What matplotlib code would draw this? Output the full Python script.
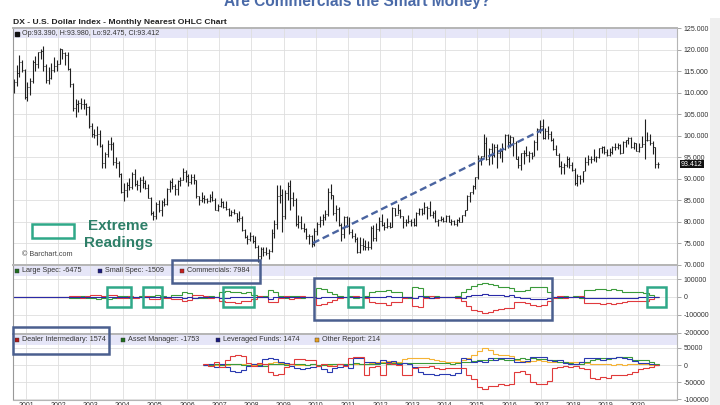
import numpy as np
import matplotlib
matplotlib.use('Agg')
import matplotlib.pyplot as plt
from matplotlib.patches import Rectangle
from matplotlib.transforms import blended_transform_factory

plt.rcParams['font.family'] = ['Liberation Sans', 'DejaVu Sans']

# ---- DX monthly bars, Aug 2000 .. Aug 2020 ----
dx_first_open = 110.6
dx_high = [
    113.2, 116.4, 118.7, 117.6, 115.5,
    112.5, 113.4, 117.6, 118.5, 119.6, 120.3, 121.0, 116.8, 116.0, 116.9, 118.4, 117.7,
    120.5, 120.3, 119.6, 119.4, 115.8, 112.3, 108.6, 108.4, 108.7, 108.6, 107.6, 107.0,
    103.0, 101.6, 102.2, 101.3, 98.0, 96.2, 98.9, 99.6, 98.5, 95.0, 94.2, 91.4,
    88.9, 89.2, 90.2, 91.5, 92.2, 89.6, 90.4, 90.6, 89.6, 88.8, 85.8, 82.5,
    84.5, 85.1, 85.0, 85.6, 87.9, 89.6, 90.2, 88.8, 89.6, 90.4, 92.6, 92.0,
    91.0, 91.2, 91.0, 89.8, 86.0, 86.8, 86.2, 85.6, 86.4, 87.2, 85.4, 84.2,
    85.5, 84.9, 84.8, 83.2, 82.6, 82.9, 82.1, 82.4, 81.2, 78.4, 77.0, 77.5,
    76.9, 76.6, 74.5, 74.0, 74.1, 74.2, 73.6, 78.2, 80.4, 88.5, 88.5, 87.7,
    87.3, 89.2, 89.6, 86.8, 85.4, 81.5, 81.3, 79.6, 78.6, 77.2, 76.8, 78.6,
    79.8, 81.3, 81.7, 82.7, 87.9, 88.7, 86.2, 83.8, 83.5, 79.6, 81.4, 81.4,
    81.1, 78.4, 77.3, 76.4, 76.5, 76.1, 75.8, 75.6, 79.0, 79.3, 79.7, 81.1,
    81.8, 79.8, 80.8, 79.9, 83.3, 83.1, 84.1, 83.0, 81.4, 80.5, 81.5, 80.5,
    80.9, 82.2, 83.2, 83.1, 84.5, 83.6, 84.8, 82.5, 82.6, 80.6, 81.4, 81.0,
    81.6, 81.5, 80.6, 80.4, 80.6, 81.0, 81.6, 82.8, 86.1, 87.0, 88.5, 90.3,
    95.5, 95.3, 100.4, 99.6, 97.2, 98.3, 98.0, 98.0, 97.1, 98.2, 100.5, 100.5,
    100.1, 99.8, 98.8, 95.2, 96.0, 96.8, 97.6, 96.5, 96.3, 98.9, 101.9, 103.6,
    103.8, 101.8, 102.2, 101.0, 99.4, 97.9, 96.0, 94.2, 93.6, 95.2, 95.0, 94.0,
    92.6, 91.0, 90.8, 91.9, 95.0, 95.5, 95.2, 96.9, 95.4, 97.2, 97.7, 97.7,
    96.9, 97.2, 97.7, 98.3, 98.4, 98.0, 98.7, 99.0, 99.7, 99.6, 98.5, 98.3,
    98.2, 99.9, 103.96, 100.9, 100.3, 98.7, 97.5, 93.98,
]
dx_low = [
    110.0, 111.5, 113.6, 114.8, 108.5,
    108.2, 109.6, 112.4, 115.0, 115.8, 117.8, 115.2, 112.2, 112.0, 113.2, 114.8, 115.0,
    116.6, 117.8, 116.5, 115.4, 111.4, 105.8, 104.4, 105.6, 106.2, 106.3, 104.8, 101.8,
    99.6, 99.4, 97.8, 97.5, 92.6, 92.5, 95.0, 96.8, 93.3, 92.4, 90.5, 86.6,
    84.9, 85.8, 87.4, 87.6, 88.4, 87.4, 86.8, 87.9, 87.6, 85.4, 81.6, 80.4,
    80.7, 82.3, 81.4, 83.6, 83.8, 86.9, 87.5, 86.3, 86.2, 88.2, 89.6, 89.3,
    88.2, 88.8, 88.8, 85.6, 83.9, 84.6, 84.3, 84.3, 84.6, 84.8, 82.6, 82.4,
    83.4, 83.1, 82.6, 81.4, 81.4, 81.8, 80.0, 80.2, 77.8, 76.2, 74.8, 75.4,
    75.1, 73.8, 70.7, 71.4, 72.1, 72.2, 71.4, 72.9, 76.1, 78.3, 84.4, 77.7,
    80.6, 85.0, 82.8, 83.6, 78.9, 78.6, 78.2, 77.6, 76.0, 74.9, 74.2, 74.4,
    76.8, 78.8, 79.2, 80.3, 81.3, 85.3, 81.6, 80.1, 79.1, 75.6, 76.3, 78.8,
    77.1, 76.3, 75.2, 72.7, 72.8, 73.5, 73.4, 73.4, 73.7, 75.4, 75.6, 77.8,
    78.9, 78.1, 78.5, 78.6, 78.7, 81.2, 81.7, 80.9, 78.6, 79.0, 79.6, 79.0,
    78.9, 78.9, 81.6, 81.6, 81.7, 80.5, 81.3, 80.8, 80.0, 79.0, 80.1, 79.8,
    80.0, 79.8, 79.2, 79.2, 78.9, 79.8, 79.8, 81.2, 82.6, 84.5, 86.4, 87.6,
    89.9, 93.2, 95.0, 94.4, 93.1, 93.5, 95.0, 92.6, 94.9, 93.8, 96.6, 97.2,
    97.4, 95.2, 94.6, 92.6, 92.0, 93.4, 95.2, 94.0, 94.6, 95.4, 96.8, 100.6,
    99.2, 99.2, 99.2, 98.8, 96.8, 95.5, 92.8, 91.0, 91.0, 92.7, 92.5, 91.9,
    88.5, 88.2, 88.8, 89.2, 91.7, 93.2, 93.7, 94.1, 93.8, 94.9, 96.0, 95.7,
    95.2, 95.3, 95.7, 96.8, 97.0, 95.8, 95.9, 97.4, 98.0, 97.1, 97.0, 96.4,
    96.2, 97.4, 94.65, 98.8, 97.9, 95.7, 92.6, 92.475,
]
dx_close = [
    112.6, 114.6, 117.2, 115.3, 109.1,
    111.3, 112.8, 117.2, 116.8, 119.5, 119.8, 116.2, 113.0, 113.5, 115.4, 116.2, 116.8,
    120.2, 119.2, 118.9, 115.6, 112.0, 106.4, 107.4, 107.6, 107.4, 107.5, 106.8, 102.2,
    100.4, 100.1, 100.3, 97.7, 93.6, 95.8, 98.0, 98.1, 93.9, 93.6, 91.2, 86.9,
    87.4, 88.6, 88.0, 91.0, 88.8, 88.5, 89.8, 88.9, 87.9, 85.6, 81.9, 81.2,
    84.0, 82.6, 84.6, 84.2, 87.6, 89.3, 88.3, 87.6, 89.5, 89.7, 91.6, 90.6,
    89.3, 90.4, 89.6, 85.9, 85.1, 85.4, 85.2, 84.9, 85.8, 85.0, 82.8, 83.6,
    84.6, 83.4, 82.9, 81.6, 82.2, 82.0, 80.6, 80.8, 78.1, 76.4, 75.9, 76.7,
    75.4, 74.2, 72.1, 73.6, 72.9, 72.6, 73.2, 77.4, 79.4, 85.9, 86.3, 81.2,
    86.6, 88.2, 85.6, 85.0, 79.4, 80.0, 78.6, 78.3, 76.6, 76.6, 74.9, 77.8,
    79.4, 80.4, 81.1, 81.8, 86.8, 86.1, 81.9, 83.0, 79.3, 77.2, 81.1, 79.1,
    77.6, 76.6, 75.9, 73.0, 74.6, 74.3, 74.0, 74.2, 78.6, 76.2, 78.3, 80.2,
    79.3, 78.7, 79.0, 78.8, 83.1, 81.6, 82.7, 81.2, 79.9, 80.0, 80.2, 79.8,
    79.2, 82.1, 82.9, 81.9, 83.3, 83.2, 81.6, 82.0, 80.2, 80.3, 80.7, 80.2,
    81.3, 79.8, 80.1, 79.5, 80.4, 79.9, 81.5, 82.7, 86.0, 86.9, 88.4, 90.3,
    94.8, 95.3, 98.4, 94.6, 96.9, 95.5, 97.3, 96.0, 96.4, 97.0, 100.2, 98.6,
    99.6, 98.2, 94.6, 93.1, 95.9, 96.1, 95.5, 95.9, 95.4, 98.5, 101.5, 102.2,
    99.5, 101.1, 100.4, 99.1, 97.0, 95.6, 92.9, 92.7, 93.1, 94.5, 93.1, 92.1,
    89.1, 90.6, 90.0, 91.8, 94.0, 94.5, 94.5, 95.1, 95.1, 97.1, 97.3, 96.2,
    95.6, 96.2, 97.3, 97.5, 97.8, 96.1, 98.5, 98.9, 99.4, 97.4, 98.3, 96.4,
    97.4, 98.1, 98.9, 99.0, 98.3, 97.4, 93.39, 93.412,
]

# ---- Legacy COT net positions (two-month steps from Jul 2000) ----
large_spec = [
    1, 2, 1,
    0, 1, 2, 1, 0, 1,
    0, -1, -5, -6, 4, -3,
    -8, -10, -6, -9, -7, 5,
    6, -4, 2, 3, -2, 8,
    10, 6, 2, 10, 12, 25,
    20, -4, -8, -3, 3, -2,
    25, 33, 28, 30, 22, 26,
    10, -2, 3, 38, 30, 8,
    -6, 8, 4, -3, 2, 1,
    48, 42, 30, 15, 4, -2,
    3, -4, 2, 6, 28, 35,
    33, 38, 30, 28, 2, -3,
    54, 50, 8, -5, 3, -2,
    2, 1, 3, 25, 45, 60,
    70, 76, 72, 65, 58, 55,
    50, 32, 35, 38, 55, 58,
    55, 30, 2, -3, 4, -2,
    3, -4, 40, 38, 42, 45,
    40, 42, 38, 30, 28, 27,
    25, 22, 10, 2,
]
commercials = [
    -1, -2, 0,
    1, -1, -2, 0, 1, -1,
    1, 2, 6, 7, -4, 4,
    10, 11, 8, 10, 9, -6,
    -7, 5, -3, -2, 3, -10,
    -10, -6, -3, -10, -12, -22,
    -18, 11, 9, 4, -3, 2,
    -22, -30, -26, -32, -20, -25,
    -9, 3, -2, -26, -28, -6,
    7, -9, -5, 4, -2, -1,
    -45, -40, -28, -14, -4, 2,
    -2, 5, -2, -5, -26, -35,
    -32, -42, -30, -26, -3, 2,
    -50, -55, -8, 8, -3, 2,
    -2, -1, -3, -22, -50, -70,
    -80, -90, -85, -75, -68, -62,
    -60, -30, -28, -34, -45, -48,
    -45, -25, -3, 3, -4, 2,
    -2, 4, -33, -32, -36, -38,
    -36, -37, -33, -26, -24, -24,
    -23, -20, -9, -2,
]
small_spec = [
    0, 0, -1,
    -1, 0, 0, -1, -1, 0,
    -1, -1, -1, -1, 0, -1,
    -2, -1, -2, -1, -2, 1,
    1, -1, 1, -1, -1, 2,
    0, 0, 1, 0, 0, -3,
    -2, -7, -1, -1, 0, 0,
    -3, -3, -2, 2, -2, -1,
    -1, -1, -1, -12, -2, -2,
    -1, 1, 1, -1, 0, 0,
    -3, -2, -2, -1, 0, 0,
    -1, -1, 0, -1, -2, 0,
    -1, 4, 0, -2, 1, 1,
    -4, 5, 0, -3, 0, 0,
    0, 0, 0, -3, 5, 10,
    10, 14, 13, 10, 10, 7,
    10, -2, -7, -4, -10, -10,
    -10, -5, 1, 0, 0, 0,
    -1, 0, -7, -6, -6, -7,
    -4, -5, -5, -4, -4, -3,
    -2, -2, -1, 0,
]

# ---- Financial traders COT (two-month steps from Jul 2006) ----
dealer = [
    3, -2, 8,
    -5, 15, 27, 28, 26, 5,
    -4, 5, 3, -20, -28, -25,
    -5, 3, 18, 18, 16, 15,
    -3, 2, -2, -4, 3, -3,
    20, 22, 22, -28, -6, -4,
    -28, 5, 2, 0, -28, -28,
    -10, -5, -6, -3, -10, -12,
    -10, -8, -10, -10, -28, -40,
    -65, -70, -62, -60, -55, -58,
    -55, -20, -18, -25, -50, -55,
    -56, -45, -8, -5, -4, -6,
    -3, -10, -12, -38, -40, -36,
    -38, -30, -28, -28, -26, -20,
    -12, -10, -5, 0,
]
asset_manager = [
    0, 1, 2,
    1, 2, 3, 2, 1, 0,
    2, 1, -2, 3, 4, 2,
    1, 2, 3, 2, 1, 2,
    1, -1, 2, 3, 2, 2,
    3, 5, 4, 2, 3, 4,
    5, 4, 5, 6, 6, 5,
    6, 7, 5, 5, 6, 5,
    5, 3, 5, 8, 10, 12,
    14, 15, 16, 19, 18, 15,
    14, 18, 19, 18, 19, 18,
    17, 15, 14, 10, 8, 5,
    4, 3, 8, 14, 18, 20,
    18, 20, 24, 24, 22, 16,
    14, 14, 10, 2,
]
leveraged = [
    0, 2, -5,
    3, -6, -18, -19, -15, -3,
    2, -2, 18, 20, 18, 8,
    5, -3, -10, -12, -8, -6,
    -3, -12, -20, -10, -5, 0,
    -8, 21, 20, 10, 8, 5,
    14, 10, 12, 3, 5, 4,
    -5, -20, -27, -25, -28, -27,
    -25, -28, -22, 19, 18, 10,
    12, 10, 19, 15, 19, 19,
    19, 10, 8, 12, 24, 24,
    22, 14, 12, 14, 6, 2,
    4, 8, 19, 19, 20, 16,
    19, 20, 22, 19, 17, 12,
    6, 5, 3, 0,
]
other_report = [
    0, 1, 0,
    0, 1, 2, 3, 2, 1,
    0, 2, 3, 5, 8, 6,
    3, 2, 1, 0, 1, 2,
    1, 0, 1, 2, 3, 2,
    2, 3, 2, 4, 6, 8,
    10, 12, 10, 8, 18, 19,
    19, 20, 19, 18, 15, 12,
    10, 8, 10, 15, 20, 28,
    42, 50, 45, 32, 28, 28,
    26, 15, 12, 10, 12, 14,
    12, 10, 9, 10, 10, 10,
    10, 10, 6, 4, 2, 2,
    2, 1, 2, 1, 2, 3,
    2, 2, 1, 0,
]

years = list(range(2001, 2021))
trend_t = [2009.91, 2017.12]
trend_v = [75.0, 101.7]
extreme_periods = [(2003.52, 2004.26), (2004.63, 2005.22), (2007.12, 2008.08),
                   (2011.0, 2011.47), (2020.29, 2020.88)]
big_period = (2009.93, 2017.33)

W, H = 720, 405
def fx(x):
    return x / W
def fy(y):
    return 1 - y / H

fig = plt.figure(figsize=(7.2, 4.05), dpi=100)
fig.add_artist(Rectangle((fx(710), 0), fx(10), fy(18), transform=fig.transFigure,
                         fc='#efefef', ec='none', zorder=-1))

L, R = 13, 677
ax1 = fig.add_axes([fx(L), fy(265), (R - L) / W, (265 - 28) / H])
ax2 = fig.add_axes([fx(L), fy(334), (R - L) / W, (334 - 265) / H])
ax3 = fig.add_axes([fx(L), fy(399.5), (R - L) / W, (399.5 - 334) / H])

xmin = 2001 - (26 - L) / 32.2
xmax = 2001 + (R - 26) / 32.2
grid_c = '#dedede'
for ax, band_px, hpx in [(ax1, 10, 237), (ax2, 11, 69), (ax3, 11, 65.5)]:
    ax.set_xlim(xmin, xmax)
    ax.set_axisbelow(True)
    ax.set_xticks(years)
    ax.grid(True, color=grid_c, lw=0.6)
    ax.yaxis.tick_right()
    ax.tick_params(axis='y', direction='out', length=3, width=0.6, color='#999999',
                   labelsize=5, pad=2, labelcolor='#333333')
    ax.tick_params(axis='x', length=0, labelsize=5, labelcolor='#333333', pad=1.5)
    for s in ax.spines.values():
        s.set_color('#b5b5b5')
        s.set_linewidth(0.8)
    ax.spines['top'].set_linewidth(1.4)
    ax.spines['left'].set_color('#999999')
    ax.add_patch(Rectangle((0, 1 - band_px / hpx), 1, band_px / hpx, transform=ax.transAxes,
                           fc='#e6e6f8', ec='none', zorder=0.3))
ax1.tick_params(axis='x', labelbottom=False)
ax2.tick_params(axis='x', labelbottom=False)
ax3.set_xticklabels([str(y) for y in years])

# ---- main OHLC panel ----
n = len(dx_close)
t = 2000 + (7.5 + np.arange(n)) / 12
dx_open = np.r_[dx_first_open, dx_close[:-1]]
bar_c = '#1e1e1e'
ax1.vlines(t, dx_low, dx_high, color=bar_c, lw=0.8)
ax1.hlines(dx_open, t - 0.03, t, color=bar_c, lw=0.7)
ax1.hlines(dx_close, t, t + 0.03, color=bar_c, lw=0.7)
ax1.set_ylim(69.9, 125.1)
ax1.set_yticks(np.arange(70, 126, 5))
ax1.yaxis.set_major_formatter(plt.FormatStrFormatter('%.3f'))
ax1.plot(trend_t, trend_v, color='#4a64a0', lw=1.7, ls=(0, (3, 1.6)))

ax1.plot([(17 - L) / (R - L)], [1 - 5.5 / 237], marker='s', ms=2.6, color='#111111',
         transform=ax1.transAxes, clip_on=False)
ax1.text((22 - L) / (R - L), 1 - 5.5 / 237,
         'Op:%.3f, H:%.3f, Lo:%.3f, Cl:%.3f' % (dx_open[-1], dx_high[-1], dx_low[-1], dx_close[-1]),
         transform=ax1.transAxes, fontsize=5.1, color='#333333', va='center')
tr = blended_transform_factory(ax1.transAxes, ax1.transData)
ax1.text(1.006, dx_close[-1], '%.3f' % dx_close[-1], transform=tr, fontsize=5, color='white',
         va='center', ha='left', bbox=dict(fc='#111111', ec='none', pad=0.6), clip_on=False)
ax1.text((22 - L) / (R - L), 10 / 237, '© Barchart.com', transform=ax1.transAxes,
         fontsize=5.2, color='#444444', va='center')

# ---- legacy COT panel ----
edges2 = 2000.5 + np.arange(len(large_spec) + 1) / 6
ax2.stairs(np.array(large_spec) * 1000, edges2, color='#3a9a3a', lw=0.8)
ax2.stairs(np.array(commercials) * 1000, edges2, color='#e03a3e', lw=0.8)
ax2.stairs(np.array(small_spec) * 1000, edges2, color='#2a2aa8', lw=0.8)
ax2.set_ylim(-206000, 178000)
ax2.set_yticks([100000, 0, -100000, -200000])
ax2.yaxis.set_major_formatter(plt.FormatStrFormatter('%d'))

def legend_row(ax, hpx, items):
    for xpx, col, label in items:
        ax.plot([(xpx - L) / (R - L)], [1 - 5.5 / hpx], marker='s', ms=2.6, color=col,
                mec='#333333', mew=0.3, transform=ax.transAxes, clip_on=False)
        ax.text((xpx + 5 - L) / (R - L), 1 - 5.5 / hpx, label, transform=ax.transAxes,
                fontsize=5.2, color='#333333', va='center')

legend_row(ax2, 69, [(17, '#1f6e1f', 'Large Spec: %d' % -6475),
                     (100, '#1a1a80', 'Small Spec: %d' % -1509),
                     (182, '#c41e1e', 'Commercials: %d' % 7984)])

# ---- financial traders panel ----
edges3 = 2006.5 + np.arange(len(dealer) + 1) / 6
ax3.stairs(np.array(other_report) * 1000, edges3, color='#f5b335', lw=0.8)
ax3.stairs(np.array(asset_manager) * 1000, edges3, color='#3a9a3a', lw=0.8)
ax3.stairs(np.array(leveraged) * 1000, edges3, color='#2a3ab0', lw=0.8)
ax3.stairs(np.array(dealer) * 1000, edges3, color='#e03a3a', lw=0.8)
ax3.set_ylim(-100000, 90000)
ax3.set_yticks([50000, 0, -50000, -100000])
ax3.yaxis.set_major_formatter(plt.FormatStrFormatter('%d'))
legend_row(ax3, 65.5, [(17, '#b01818', 'Dealer Intermediary: %d' % 1574),
                       (123, '#1f6e1f', 'Asset Manager: %d' % -1753),
                       (218, '#1a1a80', 'Leveraged Funds: %d' % 1474),
                       (317, '#e8a020', 'Other Report: %d' % 214)])

# ---- annotations ----
green = '#2fa888'
navy = '#4a5f8f'
for a, b in extreme_periods:
    ax2.add_patch(Rectangle((a, -55600), b - a, 111200, fc='none', ec=green, lw=1.8,
                            zorder=5, clip_on=False))
ax2.add_patch(Rectangle((big_period[0], -127800), big_period[1] - big_period[0], 233400,
                        fc='none', ec=navy, lw=1.8, zorder=5, clip_on=False))

def fig_box(x0, y0, x1, y1, col):
    fig.add_artist(Rectangle((fx(x0), fy(y1)), fx(x1) - fx(x0), fy(y0) - fy(y1),
                             transform=fig.transFigure, fc='none', ec=col, lw=1.8, zorder=5))

fig_box(172, 260, 260, 283, navy)
fig_box(13, 327, 109, 354, navy)
fig_box(32, 224, 74, 238, green)
fig.text(fx(118), fy(225.5), 'Extreme', color='#2e7f68', fontsize=11, fontweight='bold',
         ha='center', va='center')
fig.text(fx(118), fy(243), 'Readings', color='#2e7f68', fontsize=11, fontweight='bold',
         ha='center', va='center')

fig.text(fx(357), fy(6), 'Are Commercials the Smart Money?', color='#4a6aa8',
         fontsize=11.2, fontweight='bold', ha='center', va='baseline')
fig.text(fx(13), fy(23.5), 'DX - U.S. Dollar Index - Monthly Nearest OHLC Chart',
         fontsize=6.1, fontweight='bold', color='#222222', va='baseline')

fig.savefig('out.png', dpi=100)
